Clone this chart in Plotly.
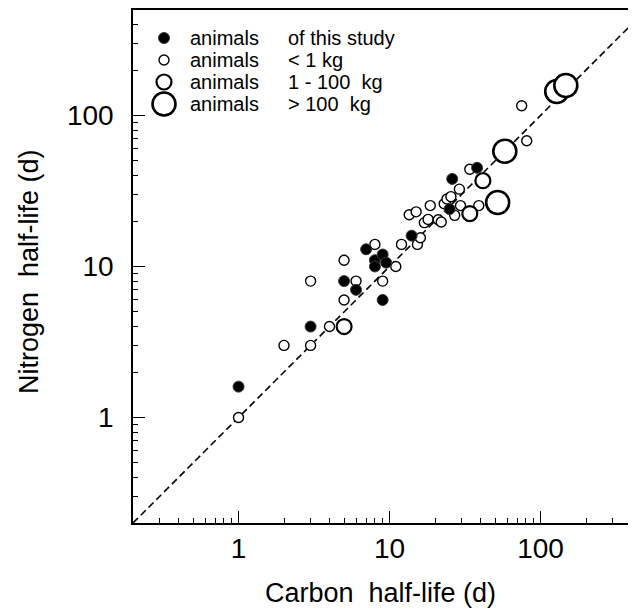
import plotly.graph_objects as go

# animals of this study (filled)
study_c = [1, 3, 5, 6, 7, 8, 8, 9, 9.5, 9, 14, 25, 26, 38]
study_n = [1.6, 4, 8, 7, 13, 11, 10, 12, 10.6, 6, 16, 24, 38, 45]

# animals < 1 kg
small_c = [1, 2, 3, 3, 4, 5, 5, 6, 8, 9, 11, 12, 13.5, 15, 15.3, 16, 17, 18,
           18.6, 21, 22, 23, 24, 25.5, 27, 29, 29.5, 34, 39, 75, 81]
small_n = [1, 3, 3, 8, 4, 6, 11, 8, 14, 8, 10, 14, 22, 23, 14, 15.5, 19.5, 20.5,
           25.3, 20.4, 19.7, 26, 28, 29, 21.8, 32.5, 25.3, 44, 25.3, 116, 68]

# animals 1 - 100 kg
mid_c = [5, 34, 41.5]
mid_n = [4, 22.4, 37]

# animals > 100 kg
large_c = [52, 58, 128, 147]
large_n = [26.5, 58, 144, 158]

identity = [0.2, 1000]

legend_col1 = ["animals", "animals", "animals", "animals"]
legend_col2 = ["of this study", "< 1 kg", "1 - 100  kg", "> 100  kg"]

FONT = "Liberation Sans, Arial, sans-serif"

fig = go.Figure()

fig.add_trace(go.Scatter(
    x=identity, y=identity, mode="lines",
    line=dict(color="black", width=1.6, dash="7px,4px"),
    hoverinfo="skip",
))

fig.add_trace(go.Scatter(
    x=small_c, y=small_n, mode="markers",
    marker=dict(size=10, color="white", line=dict(color="black", width=1.4)),
))
fig.add_trace(go.Scatter(
    x=mid_c, y=mid_n, mode="markers",
    marker=dict(size=15, color="white", line=dict(color="black", width=2.2)),
))
fig.add_trace(go.Scatter(
    x=large_c, y=large_n, mode="markers",
    marker=dict(size=23, color="white", line=dict(color="black", width=2.6)),
))
fig.add_trace(go.Scatter(
    x=study_c, y=study_n, mode="markers",
    marker=dict(size=11, color="black", line=dict(color="#3a3a3a", width=1)),
))

# page has an 8px body margin, so the figure is 628x602 and sits at (8, 8)
W, H = 628, 602
plot_l, plot_r, plot_t, plot_b = 125, 628, 2, 515
pw, ph = plot_r - plot_l, plot_b - plot_t


def px_x(p):
    return (p - plot_l) / pw


def px_y(p):
    return (plot_b - p) / ph


# legend drawn by hand (plotly caps legend symbol size)
rows_y = [30, 52, 74, 96]
sym = [("black", "#3a3a3a", 11, 1), ("white", "black", 10, 1.4),
       ("white", "black", 15, 2.2), ("white", "black", 23, 2.6)]
shapes = []
annotations = []
for i, yy in enumerate(rows_y):
    fill, edge, d, w = sym[i]
    shapes.append(dict(
        type="circle", xref="paper", yref="paper",
        xsizemode="pixel", ysizemode="pixel",
        xanchor=px_x(156), yanchor=px_y(yy),
        x0=-d / 2, x1=d / 2, y0=-d / 2, y1=d / 2,
        fillcolor=fill, line=dict(color=edge, width=w),
    ))
    annotations.append(dict(
        x=px_x(180), y=px_y(yy), xref="paper", yref="paper",
        text=legend_col1[i], showarrow=False, xanchor="left", yanchor="middle",
        font=dict(size=20, family=FONT, color="black"),
    ))
    annotations.append(dict(
        x=px_x(278), y=px_y(yy), xref="paper", yref="paper",
        text=legend_col2[i], showarrow=False, xanchor="left", yanchor="middle",
        font=dict(size=20, family=FONT, color="black"),
    ))

# axis titles
annotations.append(dict(
    x=px_x(372), y=px_y(585), xref="paper", yref="paper",
    text="Carbon  half-life (d)", showarrow=False,
    xanchor="center", yanchor="middle",
    font=dict(size=27, family=FONT, color="black"),
))
annotations.append(dict(
    x=px_x(21), y=px_y(264), xref="paper", yref="paper",
    text="Nitrogen  half-life (d)", showarrow=False, textangle=-90,
    xanchor="center", yanchor="middle",
    font=dict(size=27, family=FONT, color="black"),
))

minor_vals = [0.3, 0.4, 0.5, 0.6, 0.7, 0.8, 0.9,
              2, 3, 4, 5, 6, 7, 8, 9,
              20, 30, 40, 50, 60, 70, 80, 90,
              200, 300, 400]

lo = -0.69897
decade = 151.0
x_hi = lo + pw / decade
y_hi = lo + ph / decade

axis_common = dict(
    type="log",
    tickvals=[1, 10, 100],
    ticktext=["1", "10", "100"],
    ticks="inside", ticklen=12, tickwidth=1.2, tickcolor="black",
    minor=dict(ticks="inside", ticklen=5, tickwidth=1, tickcolor="black",
               tickvals=minor_vals),
    showgrid=False, zeroline=False,
    showline=True, linecolor="black", linewidth=1.5,
    tickfont=dict(size=28, family=FONT, color="black"),
)

fig.update_layout(
    width=W, height=H,
    margin=dict(l=plot_l, r=W - plot_r, t=plot_t, b=H - plot_b),
    paper_bgcolor="white", plot_bgcolor="white",
    showlegend=False,
    xaxis=dict(axis_common, range=[lo, x_hi], mirror=True,
               ticklabelstandoff=0),
    yaxis=dict(axis_common, range=[lo, y_hi], ticklabelstandoff=12),
    shapes=shapes,
    annotations=annotations,
)

fig.write_html("out.html")
